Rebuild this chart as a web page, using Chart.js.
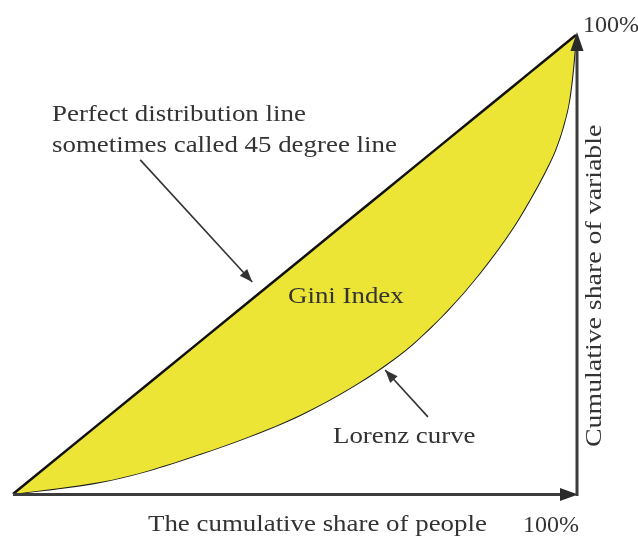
<!DOCTYPE html>
<html>
<head>
<meta charset="utf-8">
<title>Lorenz curve</title>
<script src="https://cdn.jsdelivr.net/npm/chart.js@4.4.1/dist/chart.umd.min.js"></script>
<style>
  html, body { margin: 0; padding: 0; background: #fff; }
  canvas { display: block; }
</style>
</head>
<body>
<canvas id="gini-chart" width="638" height="536"></canvas>
<script>
// ── Data ─────────────────────────────────────────────────────────────────────

// cumulative share of people (x) and of the variable (y), 0..1
const shareOfPeople = [0, 0.155, 0.243, 0.332, 0.421, 0.510, 0.599, 0.657, 0.710, 0.771, 0.829, 0.888, 0.918, 0.945, 0.963, 0.977, 0.988, 0.995, 1];
const lorenzShare   = [0, 0.026, 0.052, 0.087, 0.126, 0.172, 0.231, 0.277, 0.327, 0.399, 0.481, 0.580, 0.641, 0.702, 0.749, 0.800, 0.858, 0.928, 1];

const axisEndLabel = '100%';
const xTitle = 'The cumulative share of people';
const yTitle = 'Cumulative share of variable';

// ── Styling ──────────────────────────────────────────────────────────────────

const YELLOW = '#ece535';
const INK    = '#333333';
const FONT   = '"Liberation Serif", "Times New Roman", serif';
const SX     = 1.12;   // the reference type is a little wide

// ── Helpers ──────────────────────────────────────────────────────────────────

function arrowHead(ctx, fx, fy, tx, ty, len, half) {
  const a = Math.atan2(ty - fy, tx - fx);
  ctx.beginPath();
  ctx.moveTo(tx, ty);
  ctx.lineTo(tx - len * Math.cos(a) + half * Math.sin(a), ty - len * Math.sin(a) - half * Math.cos(a));
  ctx.lineTo(tx - len * Math.cos(a) - half * Math.sin(a), ty - len * Math.sin(a) + half * Math.cos(a));
  ctx.closePath();
  ctx.fill();
}

function text(ctx, str, x, y, size, sx = SX) {
  ctx.save();
  ctx.translate(x, y);
  ctx.scale(sx, 1);
  ctx.font = `${size}px ${FONT}`;
  ctx.textAlign = 'left';
  ctx.textBaseline = 'alphabetic';
  ctx.fillText(str, 0, 0);
  ctx.restore();
}

// axes, labels and pointer arrows
const decorations = {
  id: 'decorations',
  afterDatasetsDraw(chart) {
    const { ctx, scales: { x, y } } = chart;
    const px = v => x.getPixelForValue(v);
    const py = v => y.getPixelForValue(v);
    const L = px(0), R = px(1), B = py(0), T = py(1);

    ctx.save();
    ctx.strokeStyle = '#3c3c3c';
    ctx.fillStyle = '#2a2a2a';
    ctx.lineWidth = 3;

    // x axis
    ctx.beginPath();
    ctx.moveTo(L, B + 0.5);
    ctx.lineTo(R - 10, B + 0.5);
    ctx.stroke();
    arrowHead(ctx, L, B + 0.5, R + 2, B + 0.5, 18, 6.5);

    // y axis (on the right)
    ctx.beginPath();
    ctx.moveTo(R + 1, B + 2);
    ctx.lineTo(R + 1, T + 10);
    ctx.stroke();
    arrowHead(ctx, R + 1, B, R + 1, T - 3, 19, 6.5);

    // pointer arrows
    ctx.lineWidth = 1.6;
    ctx.strokeStyle = INK;
    ctx.fillStyle = INK;
    const pointers = [
      [[0.226, 0.728], [0.425, 0.462]],
      [[0.737, 0.168], [0.661, 0.270]],
    ];
    pointers.forEach(([[x1, y1], [x2, y2]]) => {
      ctx.beginPath();
      ctx.moveTo(px(x1), py(y1));
      ctx.lineTo(px(x2), py(y2));
      ctx.stroke();
      arrowHead(ctx, px(x1), py(y1), px(x2), py(y2), 13, 5);
    });

    // labels
    ctx.fillStyle = INK;
    text(ctx, 'Perfect distribution line', L + 39, 121, 24);
    text(ctx, 'sometimes called 45 degree line', L + 39, 152, 24);
    text(ctx, 'Gini Index', 288, 303, 24);
    text(ctx, 'Lorenz curve', 333, 443, 24);
    text(ctx, xTitle, 148, 531, 24);
    text(ctx, axisEndLabel, R - 53, 532, 24, 1);
    text(ctx, axisEndLabel, R + 7, 32, 24, 1);

    ctx.save();
    ctx.translate(R + 25, 447);
    ctx.rotate(-Math.PI / 2);
    text(ctx, yTitle, 0, 0, 24, 1.16);
    ctx.restore();

    ctx.restore();
  },
};

// ── Chart ────────────────────────────────────────────────────────────────────

const ctx = document.getElementById('gini-chart').getContext('2d');

new Chart(ctx, {
  type: 'scatter',
  data: {
    datasets: [
      {
        label: 'Perfect distribution line',
        data: shareOfPeople.map(v => ({ x: v, y: v })),
        showLine: true,
        borderColor: '#111',
        borderWidth: 2.5,
        backgroundColor: YELLOW,
        fill: '+1',
        pointRadius: 0,
        clip: false,
      },
      {
        label: 'Lorenz curve',
        data: shareOfPeople.map((v, i) => ({ x: v, y: lorenzShare[i] })),
        showLine: true,
        borderColor: '#1a1a1a',
        borderWidth: 2,
        cubicInterpolationMode: 'monotone',
        pointRadius: 0,
        fill: false,
        clip: false,
      },
    ],
  },
  options: {
    responsive: false,
    animation: false,
    devicePixelRatio: 1,
    layout: { padding: { left: 13, right: 62, top: 35, bottom: 42 } },
    plugins: {
      legend: { display: false },
      tooltip: { enabled: false },
    },
    scales: {
      x: { type: 'linear', min: 0, max: 1, display: false },
      y: { type: 'linear', min: 0, max: 1, display: false },
    },
  },
  plugins: [decorations],
});
</script>
</body>
</html>
